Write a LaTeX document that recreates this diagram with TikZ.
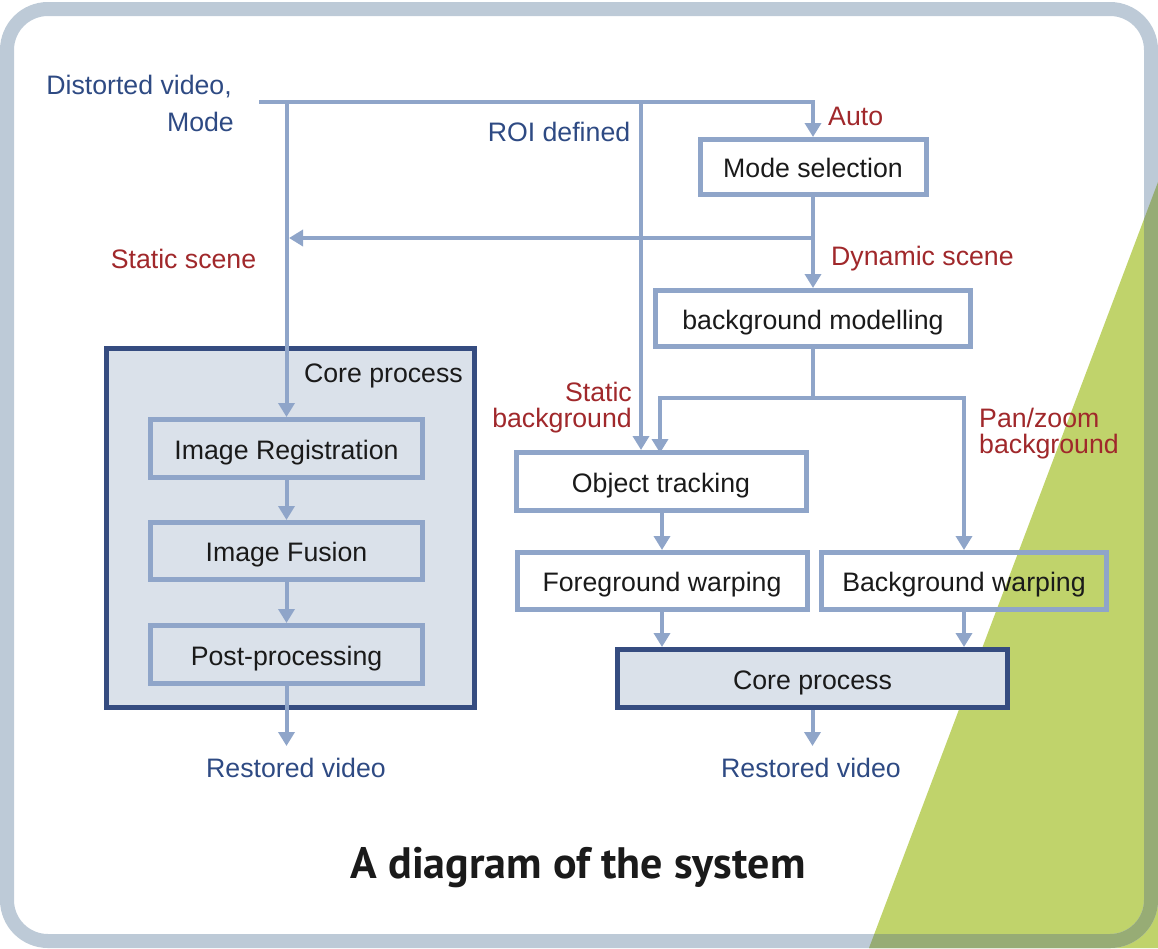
\documentclass[tikz,border=0pt]{standalone}
\usepackage{fontspec}
\setmainfont{Liberation Sans}
\newfontfamily\titlefont{PT Sans}
\usetikzlibrary{arrows.meta}
\definecolor{framegray}{HTML}{BDCAD7}
\definecolor{framegreen}{HTML}{97AC75}
\definecolor{leafgreen}{HTML}{C0D36B}
\definecolor{linkblue}{HTML}{8FA5C9}
\definecolor{corefill}{HTML}{DAE1EA}
\definecolor{coreedge}{HTML}{354C80}
\definecolor{textblue}{HTML}{2E4A83}
\definecolor{textred}{HTML}{A0282B}
\definecolor{textblack}{HTML}{1A1A1A}
\begin{document}
\begin{tikzpicture}[x=1pt,y=-1pt,
  txt/.style={inner sep=0pt,font=\fontsize{26.7}{32}\selectfont},
  bluetxt/.style={txt,text=textblue},
  redtxt/.style={txt,text=textred},
  blacktxt/.style={txt,text=textblack},
  boxtext/.style={inner sep=0pt,text=textblack,text height=23pt,text depth=2pt,
    font=\fontsize{26.7}{32}\selectfont},
  stepbox/.style={boxtext,draw=linkblue,line width=5pt},
  corebox/.style={boxtext,draw=coreedge,fill=corefill,line width=5pt},
  conn/.style={draw=linkblue,line width=4pt},
  arr/.style={conn,-{Triangle[width=16pt,length=14pt]}},
  frame/.style={line width=14pt,rounded corners=41pt}
]
\useasboundingbox (0,0) rectangle (1158,948);

% backdrop: green corner wedge and rounded frame
\fill[leafgreen] (869,948) -- (1158,182) -- (1158,948) -- cycle;
\draw[frame,framegray] (7,9) rectangle (1151,941);
\begin{scope}
  \clip (869,948) -- (1158,182) -- (1158,948) -- cycle;
  \draw[frame,framegreen] (7,9) rectangle (1151,941);
\end{scope}

% left branch: static-scene core process
\node[corebox,minimum width=368pt,minimum height=359pt] (coreL) at (290.5,528) {};
\node[blacktxt,anchor=base east] (coreLlabel) at (463,382) {Core process};
\node[stepbox,minimum width=272pt,minimum height=58pt] (imreg) at (286.5,448.5) {Image Registration};
\node[stepbox,minimum width=272pt,minimum height=57pt] (imfus) at (286.5,551) {Image Fusion};
\node[stepbox,minimum width=272pt,minimum height=58pt] (post) at (286.5,654.5) {Post-processing};

% right branch: dynamic scene
\node[stepbox,minimum width=226pt,minimum height=55pt] (modesel) at (813,167) {Mode selection};
\node[stepbox,minimum width=315pt,minimum height=56pt] (bgmod) at (813,318.5) {background modelling};
\node[stepbox,minimum width=290pt,minimum height=58pt] (objtrack) at (661,481.5) {Object tracking};
\node[stepbox,minimum width=290pt,minimum height=57pt] (fgwarp) at (662,581) {Foreground warping};
\node[stepbox,minimum width=285pt,minimum height=57pt] (bgwarp) at (964,581) {Background warping};
\node[corebox,minimum width=390pt,minimum height=58pt] (coreR) at (812.5,678.5) {Core process};

% labels
\node[bluetxt,anchor=base east] (dv1) at (232,94) {Distorted video,};
\node[bluetxt,anchor=base east] (dv2) at (234,131) {Mode};
\node[bluetxt,anchor=base] (roi) at (559,141) {ROI defined};
\node[redtxt,anchor=base west] (auto) at (828,125) {Auto};
\node[redtxt,anchor=base] (stsc) at (183.5,268) {Static scene};
\node[redtxt,anchor=base west] (dysc) at (831,265) {Dynamic scene};
\node[redtxt,anchor=base east] (stbg1) at (632,401) {Static};
\node[redtxt,anchor=base east] (stbg2) at (632,427) {background};
\node[redtxt,anchor=base west] (pz1) at (979,427) {Pan/zoom};
\node[redtxt,anchor=base west] (pz2) at (979,453) {background};
\node[bluetxt,anchor=base] (outL) at (296,777) {Restored video};
\node[bluetxt,anchor=base] (outR) at (811,777) {Restored video};
\node[anchor=base,inner sep=0pt,text=textblack,
  font=\titlefont\bfseries\fontsize{44}{52}\selectfont] (title) at (578,878) {A diagram of the system};

% connector end points
\coordinate (src) at (259,102);
\coordinate (srcL) at (imreg.north |- src);
\coordinate (roiTop) at (641,102);
\coordinate (stbr) at (813,238);
\coordinate (stEnd) at (289,238);
\coordinate (split) at (813,398);
\coordinate (otIn) at (660,453);
\coordinate (outLtip) at (286.5,746);
\coordinate (outRtip) at (812.5,746);

% input distribution
\draw[arr] (src) -| (modesel.north);
\draw[arr] (srcL) -- (imreg.north);
\draw[arr] (roiTop) -- (roiTop |- objtrack.north);
\draw[arr] (modesel.south) -- (bgmod.north);
\draw[arr] (stbr) -- (stEnd);

% dynamic pipeline
\draw[conn] (bgmod.south) -- (split);
\draw[arr] (split) -| (otIn);
\draw[arr] (split) -| (bgwarp.north);
\draw[arr] (fgwarp.north |- objtrack.south) -- (fgwarp.north);
\draw[arr] (fgwarp.south) -- (fgwarp.south |- coreR.north);
\draw[arr] (bgwarp.south) -- (bgwarp.south |- coreR.north);
\draw[arr] (coreR.south) -- (outRtip);

% static pipeline
\draw[arr] (imreg.south) -- (imfus.north);
\draw[arr] (imfus.south) -- (post.north);
\draw[arr] (post.south) -- (outLtip);
\end{tikzpicture}
\end{document}
